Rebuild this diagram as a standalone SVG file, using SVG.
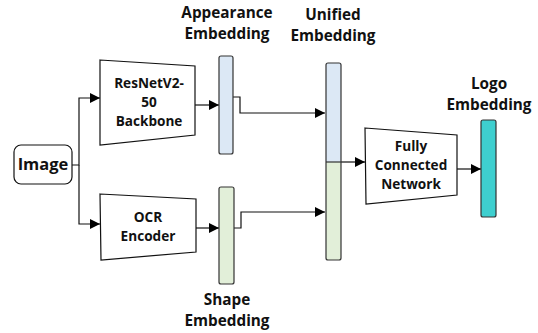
<svg xmlns="http://www.w3.org/2000/svg" width="538" height="333" viewBox="0 0 538 333">
<defs>
<marker id="arr" viewBox="0 0 10 10" refX="10" refY="5" markerWidth="10" markerHeight="10" markerUnits="userSpaceOnUse" orient="auto">
<path d="M0,0 L10,5 L0,10 z" fill="#000"/>
</marker>
<style>
.lbl{font-family:"Open Sans","Noto Sans",sans-serif;font-weight:bold;font-size:15.3px;fill:#111;text-anchor:middle}
.txt{font-family:"Open Sans","Noto Sans",sans-serif;font-weight:bold;font-size:13.6px;fill:#111;text-anchor:middle}
.blk{fill:#fff;stroke:#111;stroke-width:1.2}
.bar{stroke:#333;stroke-width:1.2}
.con{fill:none;stroke:#111;stroke-width:1.2}
</style>
</defs>
<rect width="538" height="333" fill="#fff"/>
<g id="connectors">
<path class="con" d="M72,165 H79 V98 H100" marker-end="url(#arr)"/>
<path class="con" d="M79,165 V224 H100" marker-end="url(#arr)"/>
<path class="con" d="M195,105 H219" marker-end="url(#arr)"/>
<path class="con" d="M196,228 H219" marker-end="url(#arr)"/>
<path class="con" d="M233,97 H240 V113 H325" marker-end="url(#arr)"/>
<path class="con" d="M234,228 H241 V212 H325" marker-end="url(#arr)"/>
<path class="con" d="M341,162 H365" marker-end="url(#arr)"/>
<path class="con" d="M457,169 H481" marker-end="url(#arr)"/>
</g>
<g id="image">
<rect class="blk" x="14" y="145" width="58" height="39" rx="7"/>
<text class="lbl" x="43" y="170" style="font-size:16.5px">Image</text>
</g>
<g id="resnet">
<polygon class="blk" points="100,60 195,66 195,135 100,145"/>
<text class="txt" x="149" y="88">ResNetV2-</text>
<text class="txt" x="149" y="107">50</text>
<text class="txt" x="149" y="126">Backbone</text>
</g>
<g id="ocr">
<polygon class="blk" points="100,194 196,199 196,252 101,260"/>
<text class="txt" x="148" y="222">OCR</text>
<text class="txt" x="148" y="241">Encoder</text>
</g>
<g id="appearance">
<rect class="bar" x="219" y="56" width="14" height="98" rx="2" fill="#dce8f5"/>
<text class="lbl" x="227" y="18">Appearance</text>
<text class="lbl" x="227" y="39">Embedding</text>
</g>
<g id="shape">
<rect class="bar" x="219" y="187" width="15" height="97" rx="2" fill="#e2efd9"/>
<text class="lbl" x="227" y="305">Shape</text>
<text class="lbl" x="227" y="326">Embedding</text>
</g>
<g id="unified">
<rect x="326" y="63" width="15" height="99" fill="#dce8f5"/>
<rect x="326" y="162" width="15" height="98" fill="#e2efd9"/>
<rect class="bar" x="326" y="63" width="15" height="197" rx="2" fill="none"/>
<line x1="326" y1="162" x2="341" y2="162" stroke="#333" stroke-width="1.2"/>
<text class="lbl" x="333" y="20">Unified</text>
<text class="lbl" x="333" y="41">Embedding</text>
</g>
<g id="fc">
<polygon class="blk" points="365,128 457,135 457,195 366,204"/>
<text class="txt" x="411" y="151">Fully</text>
<text class="txt" x="411" y="170">Connected</text>
<text class="txt" x="411" y="189">Network</text>
</g>
<g id="logo">
<rect class="bar" x="481" y="120" width="15" height="97" rx="2" fill="#3ecfcf"/>
<text class="lbl" x="489" y="89">Logo</text>
<text class="lbl" x="489" y="110">Embedding</text>
</g>
</svg>
